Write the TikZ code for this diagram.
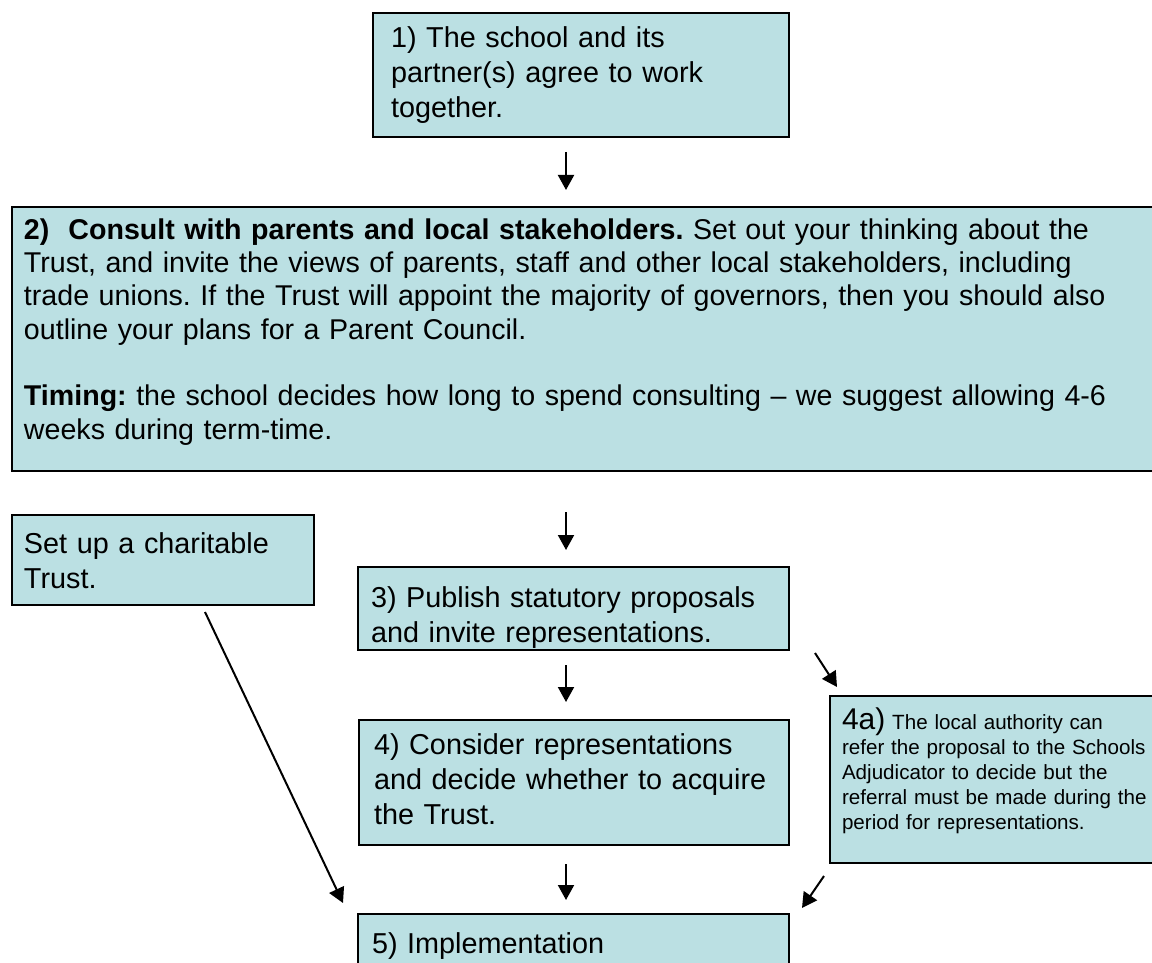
\documentclass[tikz,border=0pt]{standalone}
\usepackage{fontspec}
\setmainfont{Liberation Sans}
\usepackage{xcolor}
\usetikzlibrary{arrows.meta}

\definecolor{boxfill}{RGB}{187,224,227}
\frenchspacing

\tikzset{
  box/.style={draw, fill=boxfill, line width=1pt, anchor=north west,
              align=left, inner ysep=0pt,
              font=\fontsize{14.4pt}{17.5pt}\selectfont},
  arr/.style={-{Triangle[width=8pt,length=7.5pt]}, line width=1pt},
}

\begin{document}
\begin{tikzpicture}[x=0.5pt, y=-0.5pt]
  \path[use as bounding box] (0,0) rectangle (1152,963);
  \clip (0,0) rectangle (1152,963);

  % the boxes, placed by their top left corners
  \node[box, inner xsep=9pt, text width=190pt, text height=17.5pt, text depth=44.5pt]
        (b1) at (372,12)
        {1) The school and its\\ partner(s) agree to work\\ together.};
  \node[box, inner xsep=6pt, text width=565pt, text height=16pt, text depth=116pt,
        font=\fontsize{14.3pt}{16.7pt}\selectfont]
        (b2) at (11,206)
        {\textbf{2)\ \ Consult with parents and local stakeholders.} Set out your thinking about the\\
         Trust, and invite the views of parents, staff and other local stakeholders, including\\
         trade unions. If the Trust will appoint the majority of governors, then you should also\\
         outline your plans for a Parent Council.\\[16.7pt]
         \textbf{Timing:} the school decides how long to spend consulting -- we suggest allowing 4-6\\
         weeks during term-time.};
  \node[box, inner xsep=6pt, text width=139pt, text height=19pt, text depth=26pt]
        (trust) at (11,514)
        {Set up a charitable\\ Trust.};
  \node[box, inner xsep=6.5pt, text width=202.5pt, text height=20pt, text depth=21.5pt]
        (b3) at (357,566)
        {3) Publish statutory proposals\\ and invite representations.};
  \node[box, inner xsep=7.5pt, text width=200pt, text height=17pt, text depth=45.5pt]
        (b4) at (358,719)
        {4) Consider representations\\ \mbox{and decide whether to acquire}\\ the Trust.};
  \node[box, inner xsep=6pt, text width=162pt, text height=16.5pt, text depth=67pt,
        font=\fontsize{10.3pt}{12.5pt}\selectfont]
        (b4a) at (829,695)
        {{\fontsize{15pt}{12.5pt}\selectfont 4a)} The local authority can\\
         refer the proposal to the Schools\\
         Adjudicator to decide but the\\
         \mbox{referral must be made during the}\\
         period for representations.};
  \node[box, inner xsep=7pt, text width=201.5pt, text height=19.5pt, text depth=30pt]
        (b5) at (357,913)
        {5) Implementation};

  % arrows down the middle
  \coordinate (mid) at (566,0);
  \draw[arr, shorten <=7pt, shorten >=8pt] (b1.south -| mid) -- (b2.north -| mid);
  \draw[arr, shorten <=20pt, shorten >=8pt] (b2.south -| mid) -- (b3.north -| mid);
  \draw[arr, shorten <=7pt, shorten >=8.5pt] (b3.south -| mid) -- (b4.north -| mid);
  \draw[arr, shorten <=9pt, shorten >=6.5pt] (b4.south -| mid) -- (b5.north -| mid);

  % slanted arrows
  \coordinate (t1) at (205,612);
  \coordinate (t2) at (343,903);
  \coordinate (p1) at (815,653);
  \coordinate (p2) at (837,687);
  \coordinate (q1) at (824,876);
  \coordinate (q2) at (802,908);
  \draw[arr] (t1) -- (t2);
  \draw[arr] (p1) -- (p2);
  \draw[arr] (q1) -- (q2);
\end{tikzpicture}
\end{document}
